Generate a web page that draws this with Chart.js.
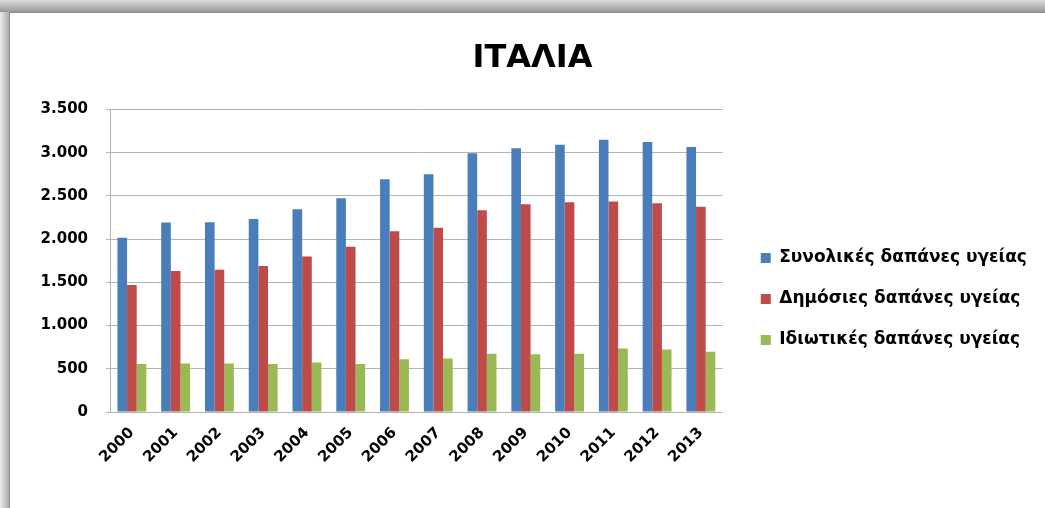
<!DOCTYPE html>
<html>
<head>
<meta charset="utf-8">
<script src="https://cdn.jsdelivr.net/npm/chart.js@4/dist/chart.umd.min.js"></script>
<style>
  html, body { margin: 0; padding: 0; background: #ffffff; }
  #wrap { width: 1045px; height: 508px; position: relative; }
</style>
</head>
<body>
<div id="wrap"><canvas id="c" width="1045" height="508"></canvas></div>
<script>
// Health expenditure, Italy 2000-2013
const years = ['2000', '2001', '2002', '2003', '2004', '2005', '2006', '2007', '2008', '2009', '2010', '2011', '2012', '2013'];
const totalSpending   = [2015, 2192, 2195, 2231, 2346, 2473, 2692, 2750, 2992, 3050, 3092, 3150, 3123, 3065];
const publicSpending  = [1469, 1630, 1646, 1688, 1800, 1911, 2092, 2130, 2334, 2404, 2427, 2435, 2415, 2373];
const privateSpending = [554, 561, 561, 554, 573, 554, 611, 619, 673, 669, 673, 734, 723, 696];
const seriesNames = ['Συνολικές δαπάνες υγείας', 'Δημόσιες δαπάνες υγείας', 'Ιδιωτικές δαπάνες υγείας'];
const yTicks = [0, 500, 1000, 1500, 2000, 2500, 3000, 3500];

const FONT = '"DejaVu Sans", "Liberation Sans", sans-serif';

// Shadowed frame behind the whole chart
const framePlugin = {
  id: 'frame',
  beforeDraw(chart) {
    const ctx = chart.ctx;
    const W = chart.width, H = chart.height;
    ctx.save();
    let g = ctx.createLinearGradient(0, 0, 0, 12);
    g.addColorStop(0, '#dedede');
    g.addColorStop(1, '#979797');
    ctx.fillStyle = g;
    ctx.fillRect(0, 0, W, 12);
    g = ctx.createLinearGradient(0, 0, 10, 0);
    g.addColorStop(0, '#ececec');
    g.addColorStop(1, '#a4a4a4');
    ctx.fillStyle = g;
    ctx.fillRect(0, 12, 10, H - 12);
    ctx.fillStyle = '#ffffff';
    ctx.fillRect(10, 13, W - 10, H - 13);
    ctx.strokeStyle = '#8a8a8a';
    ctx.lineWidth = 1;
    ctx.beginPath();
    ctx.moveTo(9.5, H);
    ctx.lineTo(9.5, 12.5);
    ctx.lineTo(W, 12.5);
    ctx.stroke();
    ctx.restore();
  }
};

// Gives the legend a wider gap from the plot and shifts its items
const legendOffsetPlugin = {
  id: 'legendOffset',
  afterInit(chart, args, opts) {
    const legend = chart.legend;
    if (!legend || legend._offsetPatched) return;
    legend._offsetPatched = true;
    const fit = legend.fit.bind(legend);
    legend.fit = function () {
      fit();
      this.width += opts.extraWidth;
    };
    const draw = legend.draw.bind(legend);
    legend.draw = function () {
      const ctx = this.ctx;
      ctx.save();
      ctx.translate(opts.dx, opts.dy);
      draw();
      ctx.restore();
    };
  }
};

const fmt = v => String(v).replace(/\B(?=(\d{3})+(?!\d))/g, '.');

new Chart(document.getElementById('c'), {
  type: 'bar',
  data: {
    labels: years,
    datasets: [
      { label: seriesNames[0], data: totalSpending, backgroundColor: '#4a7ebb' },
      { label: seriesNames[1], data: publicSpending, backgroundColor: '#be4b48' },
      { label: seriesNames[2], data: privateSpending, backgroundColor: '#98b954' }
    ]
  },
  plugins: [framePlugin, legendOffsetPlugin],
  options: {
    responsive: false,
    animation: false,
    events: [],
    datasets: { bar: { categoryPercentage: 0.66, barPercentage: 1.0 } },
    layout: { padding: { left: 20, right: 0, top: 14, bottom: 22 } },
    plugins: {
      legendOffset: { extraWidth: 66, dx: 14, dy: 49 },
      title: {
        display: true,
        text: 'ΙΤΑΛΙΑ',
        color: '#000000',
        font: { family: FONT, size: 32, weight: 'bold' },
        padding: { top: 25, bottom: 32 }
      },
      legend: {
        position: 'right',
        align: 'center',
        labels: {
          color: '#000000',
          font: { family: FONT, size: 17, weight: 'bold' },
          boxWidth: 10,
          boxHeight: 10,
          padding: 24
        }
      },
      tooltip: { enabled: false }
    },
    scales: {
      x: {
        grid: { display: false, drawTicks: false },
        border: { display: true, color: '#b0b0b0' },
        ticks: {
          color: '#000000',
          font: { family: FONT, size: 15, weight: 'bold' },
          maxRotation: 45,
          minRotation: 45,
          padding: 12
        },
        afterFit(scale) { scale.height = 74; }
      },
      y: {
        min: 0,
        max: 3500,
        afterBuildTicks(scale) { scale.ticks = yTicks.map(v => ({ value: v })); },
        grid: { color: '#b4b4b4', drawTicks: true, tickLength: 4 },
        border: { display: true, color: '#b0b0b0' },
        ticks: {
          color: '#000000',
          font: { family: FONT, size: 15, weight: 'bold' },
          padding: 18,
          callback: v => fmt(v)
        },
        afterFit(scale) { scale.width = 90; }
      }
    }
  }
});
</script>
</body>
</html>
